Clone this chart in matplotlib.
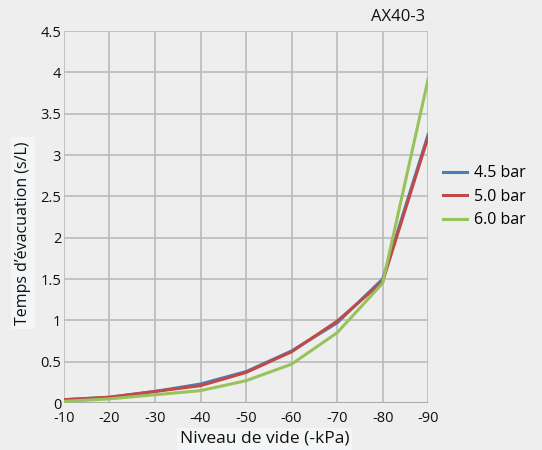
import numpy as np
import matplotlib.pyplot as plt

plt.rcParams['font.family'] = ['Open Sans', 'DejaVu Sans']

vide = [-10, -20, -30, -40, -50, -60, -70, -80, -90]
bar_45 = [0.04, 0.07, 0.14, 0.23, 0.38, 0.63, 0.97, 1.50, 3.25]
bar_50 = [0.04, 0.07, 0.14, 0.21, 0.37, 0.62, 0.99, 1.47, 3.22]
bar_60 = [0.02, 0.05, 0.10, 0.15, 0.27, 0.47, 0.85, 1.45, 3.92]
yticks = [0, 0.5, 1, 1.5, 2, 2.5, 3, 3.5, 4, 4.5]
ytick_labels = ['0', '0.5', '1', '1.5', '2', '2.5', '3', '3.5', '4', '4.5']

bg = '#eeeeee'
fig = plt.figure(figsize=(5.42, 4.5), dpi=100, facecolor=bg)
ax = fig.add_axes([0.118, 0.1044, 0.672, 0.8266], facecolor=bg)

x = np.arange(len(vide))
ax.plot(x, bar_45, color='#4a7ebb', lw=2.2, label='4.5 bar')
ax.plot(x, bar_50, color='#be4b48', lw=2.2, label='5.0 bar')
ax.plot(x, bar_60, color='#98c35a', lw=2.2, label='6.0 bar')

ax.set_xlim(0, len(vide) - 1)
ax.set_ylim(0, 4.5)
ax.set_xticks(x)
ax.set_xticklabels([str(v) for v in vide])
ax.set_yticks(yticks)
ax.set_yticklabels(ytick_labels)
ax.grid(True, color='#bbbbbb', lw=1.2)
ax.set_axisbelow(True)
for s in ax.spines.values():
    s.set_visible(False)
ax.axhline(0, color='#aaaaaa', lw=1.5, zorder=1)
ax.tick_params(length=0, labelsize=10.5, colors='#111111')
ax.tick_params(axis='x', pad=6)
ax.tick_params(axis='y', pad=2)

ax.set_xlabel('Niveau de vide (-kPa)', fontsize=12.5, color='#111111',
              bbox=dict(facecolor='#f4f5f6', edgecolor='none', pad=2))
ax.xaxis.set_label_coords(0.55, -0.075)
ax.set_ylabel('Temps d\u2019évacuation (s/L)', fontsize=11.5, color='#111111',
              bbox=dict(facecolor='#f4f5f6', edgecolor='none', pad=3))
ax.yaxis.set_label_coords(-0.09, 0.457)

fig.text(0.785, 0.962, 'AX40-3', ha='right', va='center', fontsize=12, color='#111111')

ax.legend(loc='center left', bbox_to_anchor=(1.022, 0.554), frameon=False,
          fontsize=11.5, handlelength=1.5, handletextpad=0.45, labelspacing=0.47,
          borderaxespad=0.0)

plt.savefig('out.png', dpi=100, facecolor=bg)
